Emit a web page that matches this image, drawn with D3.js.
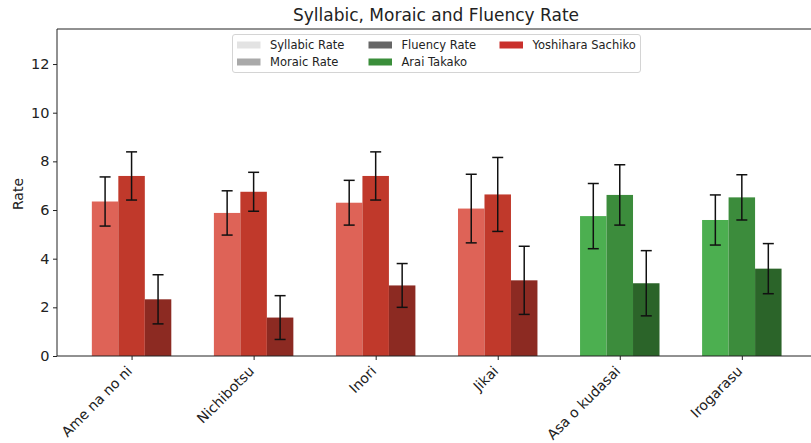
<!DOCTYPE html>
<html>
<head>
<meta charset="utf-8">
<script src="https://cdn.jsdelivr.net/npm/d3@7/dist/d3.min.js"></script>
<style>
  html, body { margin: 0; padding: 0; background: #fff; }
  svg { display: block; font-family: "DejaVu Sans", sans-serif; }
</style>
</head>
<body>
<svg id="chart" width="811" height="443"></svg>
<script>
// Songs, in plotting order
const songs = ["Ame na no ni", "Nichibotsu", "Inori", "Jikai", "Asa o kudasai", "Irogarasu"];
// Singer of each song
const singers = ["Yoshihara Sachiko", "Yoshihara Sachiko", "Yoshihara Sachiko", "Yoshihara Sachiko", "Arai Takako", "Arai Takako"];

// Mean rates per song
const syllabicRate = [6.35, 5.88, 6.30, 6.06, 5.75, 5.59];
const moraicRate   = [7.40, 6.75, 7.40, 6.64, 6.62, 6.52];
const fluencyRate  = [2.33, 1.58, 2.90, 3.11, 2.99, 3.59];

// Standard deviations (error bars)
const syllabicErr = [1.01, 0.91, 0.92, 1.41, 1.34, 1.03];
const moraicErr   = [0.99, 0.80, 0.99, 1.52, 1.24, 0.93];
const fluencyErr  = [1.01, 0.90, 0.90, 1.40, 1.34, 1.03];

const yTicks = [0, 2, 4, 6, 8, 10, 12];

// Shades per singer: syllabic, moraic, fluency
const palette = {
  "Yoshihara Sachiko": ["#de6357", "#c0392b", "#8c2a22"],
  "Arai Takako":       ["#4caf50", "#3c8c3c", "#2b6429"]
};

const metrics = [
  { name: "Syllabic Rate", values: syllabicRate, errs: syllabicErr, offset: -1, shade: 0 },
  { name: "Moraic Rate",   values: moraicRate,   errs: moraicErr,   offset: 0,  shade: 1 },
  { name: "Fluency Rate",  values: fluencyRate,  errs: fluencyErr,  offset: 1,  shade: 2 }
];

const svg = d3.select("#chart");
const barW = 0.217;

const x = d3.scaleLinear().domain([-0.611, 5.611]).range([57, 816.4]);
const y = d3.scaleLinear().domain([0, 13.44]).range([356, 29]);

// Bars
metrics.forEach(m => {
  svg.append("g").selectAll("rect")
    .data(songs)
    .join("rect")
    .attr("x", (d, i) => x(i + m.offset * barW - barW / 2))
    .attr("y", (d, i) => y(m.values[i]))
    .attr("width", x(barW) - x(0))
    .attr("height", (d, i) => y(0) - y(m.values[i]))
    .attr("fill", (d, i) => palette[singers[i]][m.shade]);
});

// Error bars
const capHalf = 5.5;
metrics.forEach(m => {
  const g = svg.append("g").attr("stroke", "#111").attr("stroke-width", 1.5).attr("fill", "none");
  songs.forEach((s, i) => {
    const cx = x(i + m.offset * barW);
    const hi = y(m.values[i] + m.errs[i]);
    const lo = y(m.values[i] - m.errs[i]);
    g.append("line").attr("x1", cx).attr("x2", cx).attr("y1", hi).attr("y2", lo);
    g.append("line").attr("x1", cx - capHalf).attr("x2", cx + capHalf).attr("y1", hi).attr("y2", hi);
    g.append("line").attr("x1", cx - capHalf).attr("x2", cx + capHalf).attr("y1", lo).attr("y2", lo);
  });
});

// Axes
const yAxis = d3.axisLeft(y).tickValues(yTicks).tickSize(4).tickPadding(3.5).tickFormat(d3.format("d"));
const gy = svg.append("g").attr("transform", `translate(${x.range()[0]},0)`).call(yAxis);
gy.select(".domain").remove();
gy.selectAll("text").attr("font-size", 14.5).attr("fill", "#222").attr("font-family", "DejaVu Sans, sans-serif");
gy.selectAll("line").attr("stroke", "#222");

const xAxis = d3.axisBottom(x).tickValues(d3.range(songs.length)).tickSize(4).tickFormat(i => songs[i]);
const gx = svg.append("g").attr("transform", `translate(0,${y(0)})`).call(xAxis);
gx.select(".domain").remove();
gx.selectAll("line").attr("stroke", "#222");
gx.selectAll("text")
  .attr("font-size", 14).attr("fill", "#222").attr("font-family", "DejaVu Sans, sans-serif")
  .attr("text-anchor", "end")
  .attr("dy", null)
  .attr("y", 0)
  .attr("transform", "translate(1,16) rotate(-45)");

// Frame (left, top, bottom spines)
const frame = svg.append("g").attr("stroke", "#222").attr("stroke-width", 1).attr("fill", "none");
frame.append("line").attr("x1", 57).attr("x2", 57).attr("y1", y.range()[1]).attr("y2", y.range()[0]);
frame.append("line").attr("x1", 57).attr("x2", 811).attr("y1", y.range()[1]).attr("y2", y.range()[1]);
frame.append("line").attr("x1", 57).attr("x2", 811).attr("y1", y.range()[0]).attr("y2", y.range()[0]);

// Title and y label
svg.append("text").attr("x", 436).attr("y", 21).attr("text-anchor", "middle")
  .attr("font-size", 17).attr("fill", "#222").text("Syllabic, Moraic and Fluency Rate");
svg.append("text").attr("transform", "translate(23,194) rotate(-90)").attr("text-anchor", "middle")
  .attr("font-size", 14).attr("fill", "#222").text("Rate");

// Legend
const legendItems = [
  { label: "Syllabic Rate", color: "#e3e3e3", col: 0, row: 0 },
  { label: "Moraic Rate", color: "#a9a9a9", col: 0, row: 1 },
  { label: "Fluency Rate", color: "#666666", col: 1, row: 0 },
  { label: "Arai Takako", color: "#3a8e3a", col: 1, row: 1 },
  { label: "Yoshihara Sachiko", color: "#c9302c", col: 2, row: 0 }
];
const colX = [237, 368.5, 499.5];
const rowY = [45, 62];
const lg = svg.append("g");
lg.append("rect").attr("x", 232.5).attr("y", 34.5).attr("width", 408).attr("height", 38)
  .attr("rx", 2.5).attr("fill", "#fff").attr("fill-opacity", 0.8).attr("stroke", "#d4d4d4");
legendItems.forEach(it => {
  lg.append("rect").attr("x", colX[it.col]).attr("y", rowY[it.row] - 3.5).attr("width", 23.5).attr("height", 7)
    .attr("fill", it.color);
  lg.append("text").attr("x", colX[it.col] + 33).attr("y", rowY[it.row] + 4)
    .attr("font-size", 11.5).attr("fill", "#222").text(it.label);
});
</script>
</body>
</html>
